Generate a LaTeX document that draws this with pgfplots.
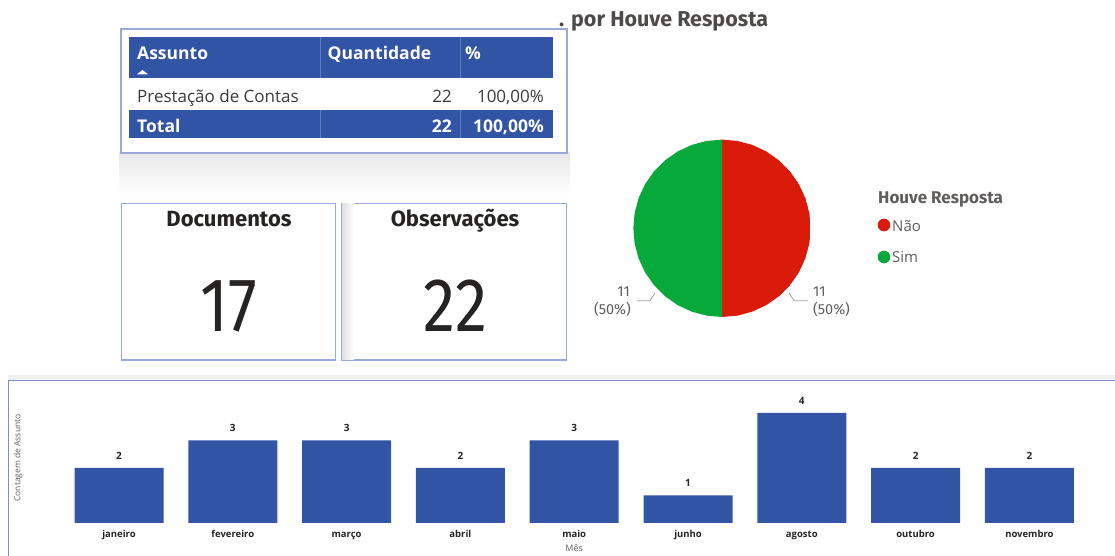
\documentclass[border=0pt]{standalone}
\usepackage{fontspec}
\setmainfont{Open Sans}
\newfontfamily\din{Fira Sans}
\usepackage{pgfplots}
\usepackage{pgfplotstable}
\usepgfplotslibrary{polar}
\pgfplotsset{compat=1.18}

\definecolor{pbblue}{HTML}{3154A5}
\definecolor{sepblue}{HTML}{5F7CC0}
\definecolor{cardline}{HTML}{9AAAD8}
\definecolor{frameblue}{HTML}{7A90CC}
\definecolor{piered}{HTML}{DA1B0A}
\definecolor{piegreen}{HTML}{07A93B}
\definecolor{txtblack}{HTML}{252423}
\definecolor{txtgray}{HTML}{3A3A3A}
\definecolor{labgray}{HTML}{605E5C}
\definecolor{leadgray}{HTML}{A0A0A0}

\newcommand{\fs}[1]{\fontsize{#1}{#1}\selectfont}

% contagem de assunto por mes
\pgfplotstableread{
idx mes count
0 janeiro 2
1 fevereiro 3
2 março 3
3 abril 2
4 maio 3
5 junho 1
6 agosto 4
7 outubro 2
8 novembro 2
}\mesdata

% Houve Resposta: Nao 11, Sim 11 -> each half of the circle
\pgfplotstableread{
ang r
0 0
90 1
80 1
70 1
60 1
50 1
40 1
30 1
20 1
10 1
0 1
-10 1
-20 1
-30 1
-40 1
-50 1
-60 1
-70 1
-80 1
-90 1
}\naoslice
\pgfplotstableread{
ang r
0 0
90 1
100 1
110 1
120 1
130 1
140 1
150 1
160 1
170 1
180 1
190 1
200 1
210 1
220 1
230 1
240 1
250 1
260 1
270 1
}\simslice

\begin{document}
\begin{tikzpicture}[x=1pt,y=1pt,t/.style={inner sep=0pt}]
\useasboundingbox (0,0) rectangle (1115,556);
\fill[white] (0,0) rectangle (1115,556);

% ---- table card ----
\shade[top color=black!9, bottom color=white] (119,403) rectangle (570,361);
\draw[cardline, line width=1.2pt, fill=white] (121,403) rectangle (567,527);
\fill[pbblue] (129,478) rectangle (553,519.3);
\fill[pbblue] (129,417.7) rectangle (553,446);
\draw[sepblue, line width=0.6pt] (320,478) -- (320,519.3) (460,478) -- (460,519.3)
  (320,417.7) -- (320,446) (460,417.7) -- (460,446);
\node[t, anchor=base west, text=white, font=\fs{17.5}\bfseries] at (137,496) {Assunto};
\node[t, anchor=base west, text=white, font=\fs{17.5}\bfseries] at (327.5,496) {Quantidade};
\node[t, anchor=base west, text=white, font=\fs{17.5}\bfseries] at (465,496) {\%};
\fill[white] (137,481.7) -- (148,481.7) -- (142.5,486) -- cycle;
\node[t, anchor=base west, text=txtgray, font=\fs{17}] at (137,453.7) {Prestação de Contas};
\node[t, anchor=base east, text=txtgray, font=\fs{17}] at (452,453.7) {22};
\node[t, anchor=base east, text=txtgray, font=\fs{17}] at (544,453.7) {100,00\%};
\node[t, anchor=base west, text=white, font=\fs{17.5}\bfseries] at (137,423.7) {Total};
\node[t, anchor=base east, text=white, font=\fs{17.5}\bfseries] at (452,423.7) {22};
\node[t, anchor=base east, text=white, font=\fs{17.5}\bfseries] at (544,423.7) {100,00\%};

% ---- cards ----
\draw[cardline, line width=1.2pt, fill=white] (121.7,196) rectangle (335.7,352.7);
\draw[cardline, line width=1.2pt, fill=white] (341.7,196) rectangle (566.7,352.7);
\shade[left color=black!12, right color=white] (342.3,196.6) rectangle (354,352.1);
\node[t, anchor=base, text=txtblack, font=\din\fs{22}\bfseries] at (229,329.3) {Documentos};
\node[t, anchor=base, text=txtblack, font=\din\fs{76}] at (229,224.3) {\scalebox{0.85}[1]{17}};
\node[t, anchor=base, text=txtblack, font=\din\fs{22}\bfseries] at (455,329.3) {Observações};
\node[t, anchor=base, text=txtblack, font=\din\fs{76}] at (455,224.3) {\scalebox{0.85}[1]{22}};

% ---- pie ----
\node[t, anchor=base west, text=labgray!80!black, font=\din\fs{21.5}\bfseries] at (559,529.5) {. por Houve Resposta};
\begin{polaraxis}[
    at={(722pt,327.7pt)}, anchor=center,
    width=177.4pt, height=177.4pt, scale only axis,
    hide axis, ymin=0, ymax=1,
]
\addplot[fill=piered, draw=none] table[x=ang, y=r] {\naoslice};
\addplot[fill=piegreen, draw=none] table[x=ang, y=r] {\simslice};
\end{polaraxis}
\draw[leadgray, line width=0.8pt] (789,263) -- (794,255.3) -- (808,255.3);
\draw[leadgray, line width=0.8pt] (655,263) -- (650,255.3) -- (637,255.3);
\node[t, anchor=base west, text=labgray, font=\din\fs{14.5}] at (813,259.3) {11};
\node[t, anchor=base west, text=labgray, font=\din\fs{14.5}] at (813,241) {(50\%)};
\node[t, anchor=base east, text=labgray, font=\din\fs{14.5}] at (630,259.3) {11};
\node[t, anchor=base east, text=labgray, font=\din\fs{14.5}] at (631,241) {(50\%)};

\node[t, anchor=base west, text=labgray, font=\din\fs{17}\bfseries] at (878,352) {Houve Resposta};
\fill[piered] (884,331) circle (6.3);
\node[t, anchor=base west, text=labgray, font=\fs{15}] at (892,324.3) {Não};
\fill[piegreen] (884,299) circle (6.3);
\node[t, anchor=base west, text=labgray, font=\fs{15}] at (892,293.3) {Sim};

% ---- bar chart ----
\fill[black!6] (8,175.5) rectangle (1115,181);
\draw[frameblue, line width=1pt] (8,0) -- (8,175) -- (1115,175);
\begin{axis}[
    at={(62.1pt,33pt)}, anchor=south west,
    width=1024.2pt, height=123.75pt, scale only axis,
    ybar, bar width=89pt,
    xmin=-0.5, xmax=8.5, ymin=0, ymax=4.5,
    axis line style={draw=none},
    major tick length=0pt,
    ytick=\empty,
    xtick=data,
    xticklabels from table={\mesdata}{mes},
    xticklabel style={font=\fs{9.5}\bfseries, text=txtblack, anchor=base, yshift=-14.7pt},
    nodes near coords,
    nodes near coords style={font=\fs{10}\bfseries, text=txtblack, anchor=base, inner sep=0pt, yshift=8.7pt,
      /pgf/number format/assume math mode=true},
    xlabel={Mês},
    xlabel style={font=\fs{9}, text=labgray, at={(axis description cs:0.5,-0.232)}, anchor=base},
    ylabel={Contagem de Assunto},
    ylabel style={font=\fs{8.5}, text=labgray, at={(axis description cs:-0.043,0.525)}, anchor=center},
]
\addplot[fill=pbblue, draw=none] table[x=idx, y=count] {\mesdata};
\end{axis}
\end{tikzpicture}
\end{document}
